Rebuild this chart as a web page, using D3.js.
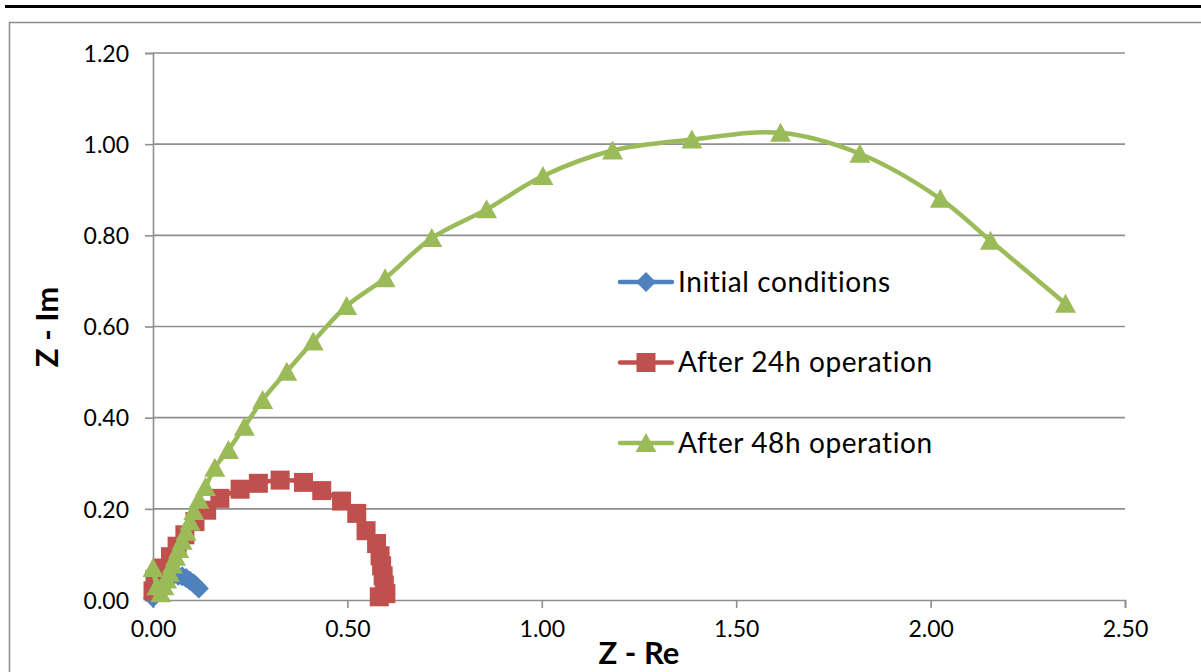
<!DOCTYPE html>
<html><head><meta charset="utf-8">
<script src="https://cdn.jsdelivr.net/npm/d3@7"></script>
<style>body{margin:0;background:#fff}svg{display:block}text{font-variant-ligatures:none}</style>
</head><body>
<script>
// ---- data ----
const xTicks = [0, 0.5, 1.0, 1.5, 2.0, 2.5];
const yTicks = [0, 0.2, 0.4, 0.6, 0.8, 1.0, 1.2];
const seriesNames = ["Initial conditions", "After 24h operation", "After 48h operation"];

const initialRe = [0.000, 0.010, 0.020, 0.035, 0.050, 0.065, 0.075, 0.085, 0.095, 0.105, 0.112, 0.118];
const initialIm = [0.005, 0.020, 0.035, 0.045, 0.052, 0.053, 0.052, 0.048, 0.042, 0.036, 0.030, 0.025];

const after24Re = [0.000, 0.005, 0.025, 0.045, 0.062, 0.082, 0.108, 0.138, 0.172, 0.224, 0.271, 0.327, 0.387, 0.434, 0.485, 0.524, 0.548, 0.575, 0.584, 0.588, 0.592, 0.595, 0.599, 0.582];
const after24Im = [0.020, 0.045, 0.070, 0.095, 0.118, 0.143, 0.172, 0.197, 0.223, 0.243, 0.256, 0.263, 0.258, 0.240, 0.217, 0.190, 0.152, 0.124, 0.097, 0.075, 0.053, 0.033, 0.014, 0.007];

const after48Re = [0.000, 0.010, 0.020, 0.028, 0.035, 0.042, 0.050, 0.058, 0.066, 0.075, 0.085, 0.095, 0.105, 0.118, 0.135, 0.159, 0.194, 0.235, 0.282, 0.344, 0.412, 0.498, 0.597, 0.717, 0.858, 1.003, 1.182, 1.386, 1.614, 1.818, 2.025, 2.154, 2.347];
const after48Im = [0.070, 0.030, 0.015, 0.030, 0.045, 0.060, 0.078, 0.095, 0.112, 0.130, 0.150, 0.172, 0.195, 0.220, 0.248, 0.290, 0.329, 0.380, 0.439, 0.501, 0.567, 0.645, 0.706, 0.794, 0.857, 0.930, 0.986, 1.010, 1.025, 0.979, 0.880, 0.788, 0.650];

const W = 1201, H = 672;
const colors = ["#4F81BD", "#C0504D", "#9BBB59"];
const FONT = "Lato, 'Open Sans', sans-serif";

const svg = d3.select("body").append("svg").attr("width", W).attr("height", H);

// top rule and chart frame
svg.append("rect").attr("x", 5).attr("y", 5).attr("width", W - 5).attr("height", 3).attr("fill", "#000");
svg.append("rect").attr("x", 9.5).attr("y", 22.5).attr("width", W).attr("height", H).attr("fill", "none")
  .attr("stroke", "#8c8c8c").attr("stroke-width", 1.5);

const x = d3.scaleLinear().domain([0, 2.5]).range([153, 1125]);
const y = d3.scaleLinear().domain([0, 1.2]).range([600, 53]);

// gridlines
svg.append("g").selectAll("line").data(yTicks.filter(d => d > 0)).join("line")
  .attr("x1", x(0)).attr("x2", x(2.5)).attr("y1", d => y(d)).attr("y2", d => y(d))
  .attr("stroke", "#8e8e8e").attr("stroke-width", 1.6);

// axes
const fmt = d3.format(".2f");
const yAxis = svg.append("g").attr("transform", `translate(${x(0)},0)`)
  .call(d3.axisLeft(y).tickValues(yTicks).tickFormat(fmt).tickSize(8).tickPadding(16));
const xAxis = svg.append("g").attr("transform", `translate(0,${y(0)})`)
  .call(d3.axisBottom(x).tickValues(xTicks).tickFormat(fmt).tickSize(8).tickPadding(13));
[xAxis, yAxis].forEach(a => {
  a.select(".domain").attr("stroke", "#8e8e8e").attr("stroke-width", 1.6);
  a.selectAll(".tick line").attr("stroke", "#8e8e8e").attr("stroke-width", 1.6);
  a.selectAll(".tick text").attr("font-family", FONT).attr("font-size", 23).attr("fill", "#000");
});
yAxis.selectAll(".tick text").attr("dy", "0.36em");

// axis titles
svg.append("text").attr("x", 639).attr("y", 664).attr("text-anchor", "middle")
  .attr("font-family", FONT).attr("font-weight", "bold").attr("font-size", 31).text("Z - Re");
svg.append("text").attr("transform", "translate(58,327) rotate(-90)").attr("text-anchor", "middle")
  .attr("font-family", FONT).attr("font-weight", "bold").attr("font-size", 31).text("Z - Im");

// marker shapes
function markerPath(i) {
  if (i === 0) return "M0,-10L10,0L0,10L-10,0Z";
  if (i === 1) return "M-9.5,-9.5H9.5V9.5H-9.5Z";
  return "M0,-10L10.5,9L-10.5,9Z";
}

const series = [
  d3.zip(initialRe, initialIm),
  d3.zip(after24Re, after24Im),
  d3.zip(after48Re, after48Im)
];

const line = d3.line().x(d => x(d[0])).y(d => y(d[1])).curve(d3.curveCatmullRom.alpha(0.5));

series.forEach((pts, i) => {
  const g = svg.append("g");
  g.append("path").attr("d", line(pts)).attr("fill", "none").attr("stroke", colors[i])
    .attr("stroke-width", 4.5).attr("stroke-linejoin", "round").attr("stroke-linecap", "round");
  g.selectAll("path.m").data(pts).join("path").attr("class", "m")
    .attr("d", markerPath(i))
    .attr("transform", d => `translate(${x(d[0])},${y(d[1])})`)
    .attr("fill", colors[i]);
});

// legend
const legY = [282, 362.5, 443];
seriesNames.forEach((name, i) => {
  const g = svg.append("g").attr("transform", `translate(0,${legY[i]})`);
  g.append("line").attr("x1", 620).attr("x2", 672).attr("y1", 0).attr("y2", 0)
    .attr("stroke", colors[i]).attr("stroke-width", 4.5).attr("stroke-linecap", "round");
  g.append("path").attr("d", markerPath(i)).attr("transform", "translate(646,0)").attr("fill", colors[i]);
  g.append("text").attr("x", 678).attr("y", 0).attr("dy", "0.35em")
    .attr("font-family", FONT).attr("font-size", 28).attr("letter-spacing", 0.6)
    .attr("fill", "#000").text(name);
});
</script>
</body></html>
